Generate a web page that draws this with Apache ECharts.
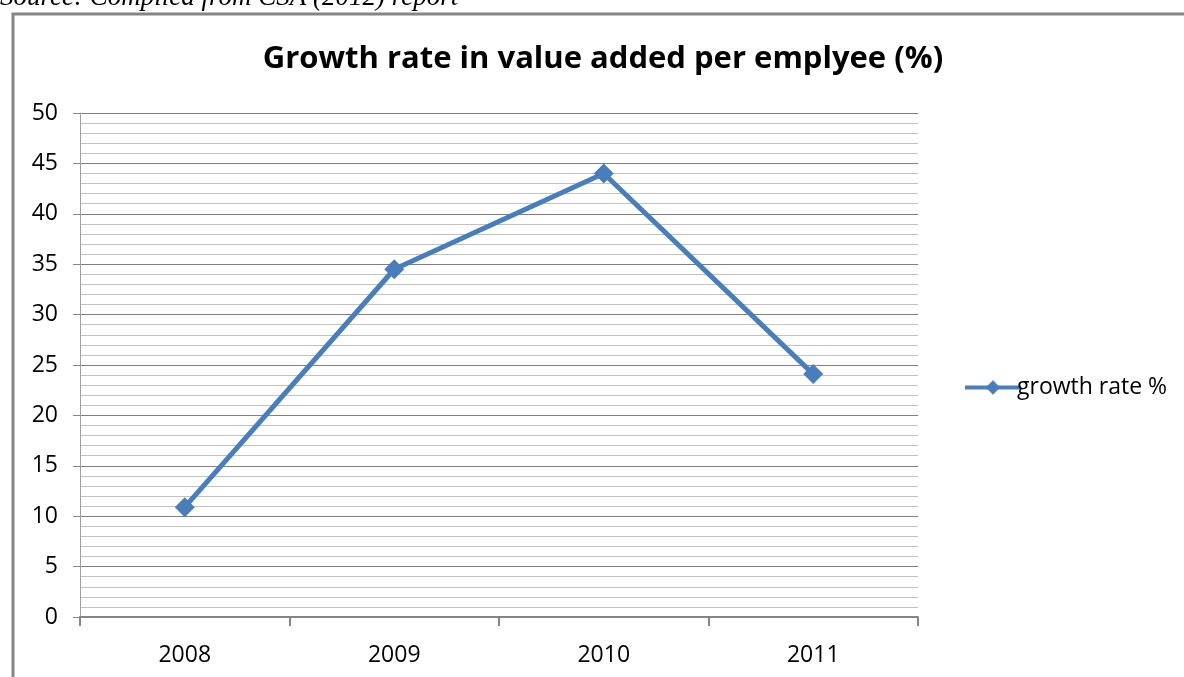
<!DOCTYPE html>
<html>
<head>
<meta charset="utf-8">
<title>Growth rate in value added per emplyee (%)</title>
<script src="https://cdn.jsdelivr.net/npm/echarts@6/dist/echarts.min.js"></script>
<style>
  html, body { margin: 0; padding: 0; background: #ffffff; }
  #chart { width: 1184px; height: 677px; }
</style>
</head>
<body>
<div id="chart"></div>
<script>
// Years on the category axis
const years = ['2008', '2009', '2010', '2011'];
// Growth rate in value added per employee, percent
const growthRate = [10.9, 34.5, 44.0, 24.1];
// Value axis range
const yMin = 0;
const yMax = 50;
const yStep = 5;

const chart = echarts.init(document.getElementById('chart'), null, { renderer: 'canvas' });

const blue = '#4a7ebb';
const labelFont = '"Open Sans", "Noto Sans", sans-serif';

chart.setOption({
  backgroundColor: '#ffffff',
  animation: false,
  title: {
    text: 'Growth rate in value added per emplyee (%)',
    left: 598,
    textAlign: 'center',
    top: 39,
    textStyle: {
      fontFamily: labelFont,
      fontWeight: 'bold',
      fontSize: 31,
      color: '#000000'
    }
  },
  graphic: [
    {
      type: 'text',
      x: 0,
      y: 11,
      style: {
        text: 'Source: Compiled from CSA (2012) report',
        font: 'italic 27px "Liberation Serif", "DejaVu Serif", serif',
        fill: '#000000',
        verticalAlign: 'bottom'
      }
    },
    {
      type: 'polyline',
      shape: { points: [[13, 677], [13, 14], [1184, 14]] },
      style: { stroke: '#858585', lineWidth: 3, fill: null }
    }
  ],
  legend: {
    left: 958,
    top: 371,
    itemWidth: 56,
    itemHeight: 18,
    itemGap: 0,
    lineStyle: { width: 4 },
    textStyle: {
      fontFamily: labelFont,
      fontSize: 23,
      color: '#000000',
      padding: [0, 0, 0, -9]
    },
    data: ['growth rate %']
  },
  grid: {
    left: 80,
    right: 266,
    top: 113,
    bottom: 60,
    containLabel: false
  },
  xAxis: {
    type: 'category',
    data: years,
    boundaryGap: true,
    axisLine: { show: true, lineStyle: { color: '#868686', width: 2 } },
    axisTick: { show: true, length: 9, inside: false, lineStyle: { color: '#868686', width: 2 } },
    axisLabel: {
      margin: 27,
      fontFamily: labelFont,
      fontSize: 23,
      color: '#000000'
    },
    splitLine: { show: false }
  },
  yAxis: {
    type: 'value',
    min: yMin,
    max: yMax,
    interval: yStep,
    axisLine: { show: true, lineStyle: { color: '#a0a0a0', width: 1 } },
    axisTick: { show: true, length: 7, lineStyle: { color: '#868686', width: 1 } },
    axisLabel: {
      margin: 22,
      fontFamily: labelFont,
      fontSize: 23,
      color: '#000000'
    },
    splitLine: { show: true, lineStyle: { color: '#808080', width: 1 } },
    minorTick: { show: false, splitNumber: 5 },
    minorSplitLine: { show: true, lineStyle: { color: '#c2c2c2', width: 1 } }
  },
  series: [
    {
      name: 'growth rate %',
      type: 'line',
      data: growthRate,
      symbol: 'diamond',
      symbolSize: 20,
      lineStyle: { color: blue, width: 5 },
      itemStyle: { color: blue },
      z: 3
    }
  ]
});
</script>
</body>
</html>
